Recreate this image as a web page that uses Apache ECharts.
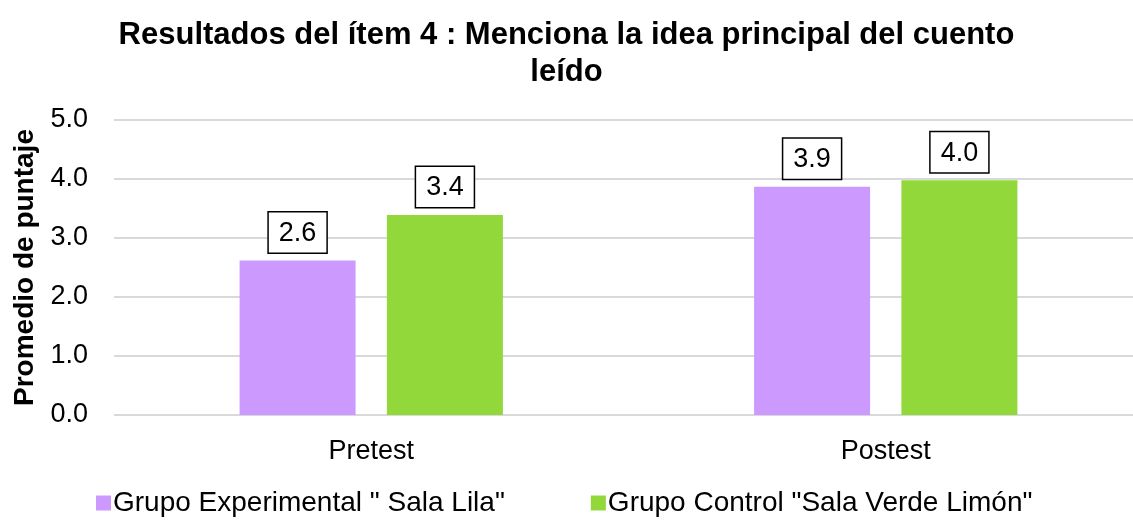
<!DOCTYPE html>
<html>
<head>
<meta charset="utf-8">
<script src="https://cdn.jsdelivr.net/npm/echarts@6/dist/echarts.min.js"></script>
<style>
  html, body { margin: 0; padding: 0; background: #fff; }
  #chart { width: 1133px; height: 521px; }
</style>
</head>
<body>
<div id="chart"></div>
<script>
const categories = ['Pretest', 'Postest']
const seriesNames = ['Grupo Experimental " Sala Lila"', 'Grupo Control "Sala Verde Limón"']
const experimental = [2.62, 3.87]
const control = [3.39, 3.98]
const colors = ['#CC99FF', '#92D83B']

const myChart = echarts.init(document.getElementById('chart'))
const font = 'Liberation Sans, Arial, sans-serif'

const labelStyle = {
  show: true,
  position: 'top',
  distance: 8,
  formatter: p => p.value.toFixed(1),
  color: '#000',
  fontFamily: font,
  fontSize: 27,
  lineHeight: 30,
  borderColor: '#000',
  borderWidth: 1.5,
  padding: [6, 10, 4, 10],
  backgroundColor: '#fff'
}

const option = {
  animation: false,
  title: {
    text: 'Resultados del ítem 4 : Menciona la idea principal del cuento\nleído',
    left: 'center',
    top: 12,
    textStyle: { fontFamily: font, fontSize: 31, fontWeight: 'bold', color: '#000', lineHeight: 37 }
  },
  legend: {
    top: 484,
    left: 91,
    icon: 'rect',
    itemWidth: 15,
    itemHeight: 15,
    itemGap: 86,
    textStyle: { fontFamily: font, fontSize: 28, color: '#000', padding: [0, 0, 0, -3] },
    data: seriesNames
  },
  grid: { left: 114, top: 120, width: 1029, height: 295, containLabel: false, outerBoundsMode: 'none' },
  xAxis: {
    type: 'category',
    data: categories,
    axisLine: { show: false },
    axisTick: { show: false },
    axisLabel: { fontFamily: font, fontSize: 27, color: '#000', margin: 23 }
  },
  yAxis: {
    type: 'value',
    min: 0,
    max: 5,
    interval: 1,
    name: 'Promedio de puntaje',
    nameLocation: 'middle',
    nameGap: 75,
    nameTextStyle: { fontFamily: font, fontSize: 28, fontWeight: 'bold', color: '#000' },
    axisLabel: { fontFamily: font, fontSize: 27, color: '#000', margin: 26, formatter: v => v.toFixed(1) },
    splitLine: { lineStyle: { color: '#d9d9d9', width: 2 } }
  },
  series: [
    {
      name: seriesNames[0],
      type: 'bar',
      data: experimental,
      barWidth: 116,
      barGap: '27%',
      itemStyle: { color: colors[0] },
      label: labelStyle
    },
    {
      name: seriesNames[1],
      type: 'bar',
      data: control,
      barWidth: 116,
      barGap: '27%',
      itemStyle: { color: colors[1] },
      label: labelStyle
    }
  ]
}

option && myChart.setOption(option)
</script>
</body>
</html>
